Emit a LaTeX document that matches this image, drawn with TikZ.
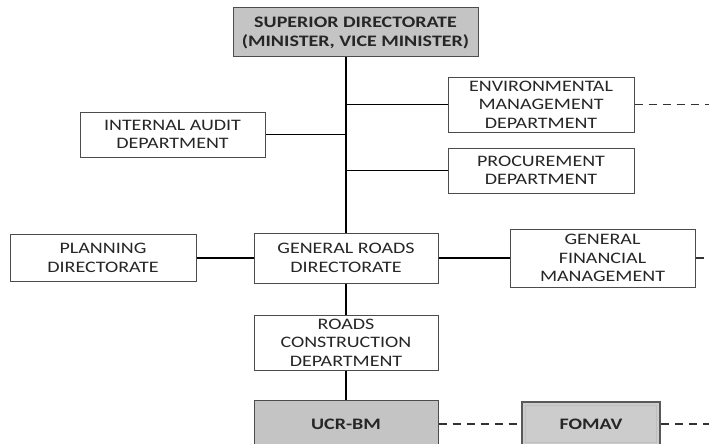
\documentclass[tikz,border=0pt]{standalone}
\usepackage{fontspec}
\setmainfont[FakeStretch=1.25]{Carlito}
\usepackage{tikz}
\usetikzlibrary{calc,positioning}

\begin{document}
\begin{tikzpicture}[x=1pt, y=-1pt,
    every node/.style={font=\fontsize{16}{18.5}\selectfont, text=black!85},
    orgBox/.style={draw=black!70, line width=1pt, fill=white, align=center, inner sep=0pt},
    greyBox/.style={orgBox, fill=black!23, font=\bfseries\fontsize{16}{19}\selectfont},
    linkLine/.style={black, line width=1.4pt},
    dashLink/.style={black!80, line width=1.2pt, dash pattern=on 8pt off 6pt}]

\clip (0,0) rectangle (709,444);

% Top of the chart
\node[greyBox, minimum width=245, minimum height=49] (sup) at (355.5,32.5) {SUPERIOR DIRECTORATE\\(MINISTER, VICE MINISTER)};

% Staff departments on the trunk
\node[orgBox, minimum width=186, minimum height=55] (env) at (541,104.5) {ENVIRONMENTAL\\MANAGEMENT\\DEPARTMENT};
\node[orgBox, minimum width=185, minimum height=45] (audit) at (172.5,134.5) {INTERNAL AUDIT\\DEPARTMENT};
\node[orgBox, minimum width=186, minimum height=45] (proc) at (541,170.5) {PROCUREMENT\\DEPARTMENT};

% Directorate row
\node[orgBox, minimum width=186, minimum height=47] (plan) at (103,258) {PLANNING\\DIRECTORATE};
\node[orgBox, minimum width=184, minimum height=50] (grd) at (346,258) {GENERAL ROADS\\DIRECTORATE};
\node[orgBox, minimum width=185, minimum height=58] (gfm) at (602.5,258) {GENERAL\\FINANCIAL\\MANAGEMENT};

% Lower levels
\node[orgBox, minimum width=184, minimum height=55] (rcd) at (346,342.5) {ROADS\\CONSTRUCTION\\DEPARTMENT};
\node[greyBox, minimum width=184, minimum height=48] (ucr) at (346,424) {UCR-BM};
\node[greyBox, draw=black!65, line width=1.6pt, fill=black!20, minimum width=138, minimum height=44] (fomav) at (591,424) {FOMAV};
\draw[white!75!black, line width=0.9pt] ($(fomav.south west)+(4,-4)$) rectangle ($(fomav.north east)+(-4,4)$);

% Vertical trunk
\draw[linkLine] (grd.north |- sup.south) -- (grd.north);
\draw[linkLine] (grd.south) -- (rcd.north);
\draw[linkLine] (rcd.south) -- (ucr.north);

% Branches
\draw[linkLine] (env.west) -- (env.west -| grd.north);
\draw[linkLine] (audit.east) -- (audit.east -| grd.north);
\draw[linkLine] (proc.west) -- (proc.west -| grd.north);
\draw[linkLine] (plan.east) -- (grd.west);
\draw[linkLine] (grd.east) -- (gfm.west);

% Dashed links leaving the picture
\coordinate (envOff) at (709,104.5);
\coordinate (gfmOff) at (709,258);
\coordinate (fomavOff) at (709,424);
\draw[dashLink] (env.east) -- (envOff);
\draw[dashLink] (gfm.east) -- (gfmOff);
\draw[dashLink] (ucr.east) -- (fomav.west);
\draw[dashLink] (fomav.east) -- (fomavOff);

\end{tikzpicture}
\end{document}
